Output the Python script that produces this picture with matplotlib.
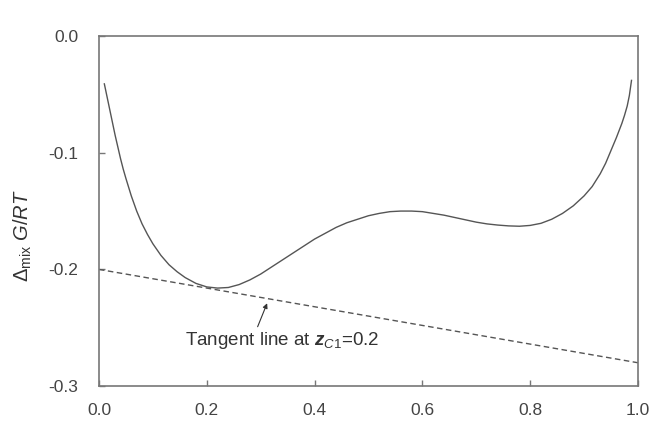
import matplotlib
matplotlib.use("Agg")
import matplotlib.pyplot as plt

plt.rcParams["font.family"] = ["Liberation Sans", "DejaVu Sans"]
plt.rcParams["mathtext.fontset"] = "custom"
plt.rcParams["mathtext.rm"] = "Liberation Sans"
plt.rcParams["mathtext.it"] = "Liberation Sans:italic"
plt.rcParams["mathtext.bf"] = "Liberation Sans:italic:bold"

# mixing Gibbs energy curve
z_c1 = [0.010, 0.015, 0.020, 0.025, 0.030, 0.035, 0.040, 0.045, 0.050, 0.060,
        0.070, 0.080, 0.090, 0.100, 0.115, 0.130, 0.145, 0.160, 0.180, 0.200,
        0.220, 0.240, 0.260, 0.280, 0.300, 0.320, 0.340, 0.360, 0.380, 0.400,
        0.420, 0.440, 0.460, 0.480, 0.500, 0.520, 0.540, 0.560, 0.580, 0.600,
        0.620, 0.640, 0.660, 0.680, 0.700, 0.720, 0.740, 0.760, 0.780, 0.800,
        0.820, 0.840, 0.860, 0.880, 0.900, 0.915, 0.930, 0.940, 0.950, 0.960,
        0.970, 0.975, 0.980, 0.984, 0.988]
dg_rt = [-0.041, -0.052, -0.063, -0.074, -0.085, -0.095, -0.105, -0.114, -0.122, -0.137,
         -0.150, -0.161, -0.170, -0.178, -0.188, -0.196, -0.202, -0.207, -0.212, -0.215,
         -0.216, -0.2155, -0.213, -0.209, -0.204, -0.198, -0.192, -0.186, -0.180, -0.174,
         -0.169, -0.164, -0.160, -0.157, -0.154, -0.152, -0.1505, -0.150, -0.150, -0.1505,
         -0.152, -0.1535, -0.1555, -0.1575, -0.1595, -0.161, -0.162, -0.1627, -0.163, -0.1623,
         -0.1605, -0.157, -0.152, -0.1455, -0.137, -0.129, -0.118, -0.109, -0.098, -0.087,
         -0.075, -0.068, -0.060, -0.051, -0.038]

# tangent line at z_C1 = 0.2
tan_z = [0.0, 1.0]
tan_g = [-0.200, -0.280]

grey = "#555555"

fig = plt.figure(figsize=(6.51, 4.29), dpi=100)
ax = fig.add_axes([0.152, 0.100, 0.828, 0.816])

ax.plot(z_c1, dg_rt, color=grey, lw=1.0)
ax.plot(tan_z, tan_g, color=grey, lw=1.0, ls=(0, (4, 2.5)))

ax.set_xlim(0, 1.0)
ax.set_ylim(-0.3, 0.0)
ax.set_xticks([0.0, 0.2, 0.4, 0.6, 0.8, 1.0])
ax.set_yticks([0.0, -0.1, -0.2, -0.3])
ax.set_xticklabels(["0.0", "0.2", "0.4", "0.6", "0.8", "1.0"])
ax.set_yticklabels(["0.0", "-0.1", "-0.2", "-0.3"])
ax.tick_params(direction="in", length=4, width=1, color="#777777",
               labelcolor="#444444", labelsize=12.5)
ax.tick_params(axis="y", pad=15)
ax.tick_params(axis="x", pad=12)
for s in ax.spines.values():
    s.set_color("#777777")
    s.set_linewidth(1.2)

ax.set_ylabel(r"$\Delta_{\mathrm{mix}}$ $\mathit{G/RT}$", fontsize=14.5, color="#333333",
              labelpad=4)
ax.yaxis.set_label_coords(-0.12, 0.43)
ax.set_xlabel(r"$\mathit{z}_{\mathit{C1}}$", fontsize=14, color="#333333", labelpad=10)

ax.annotate(r"Tangent line at $\mathbf{z}_{\mathit{C1}}$=0.2",
            xy=(0.312, -0.229), xytext=(0.159, -0.2605),
            fontsize=13.5, color="#333333", va="center",
            arrowprops=dict(arrowstyle="-|>", color="#333333", lw=0.8,
                            mutation_scale=7, shrinkA=0, shrinkB=0,
                            relpos=(0.37, 1.0)))

fig.savefig("out.png", dpi=100)
